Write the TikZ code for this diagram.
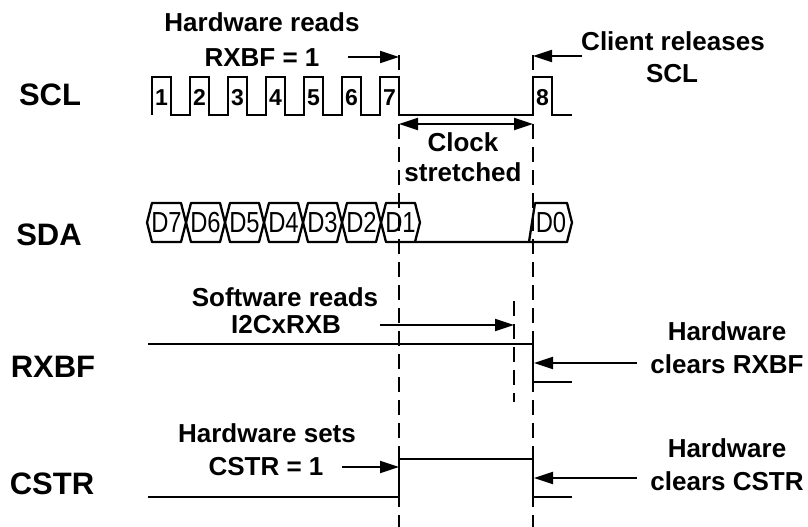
\documentclass[tikz,border=0pt]{standalone}
\usepackage{fontspec}
\setmainfont{Liberation Sans}
\newfontfamily\datafont[FakeStretch=0.82]{Liberation Sans}
\usetikzlibrary{arrows.meta}

\begin{document}
\begin{tikzpicture}[
  x=1pt, y=-1pt,
  sig/.style={line width=2.8pt, line join=miter},
  hex/.style={line width=2.3pt, line join=round},
  ann/.style={-{Triangle[length=19pt,width=12pt]}, line width=2pt},
  span/.style={{Triangle[length=19pt,width=12pt]}-{Triangle[length=19pt,width=12pt]}, line width=2pt},
  mk/.style={dash pattern=on 15pt off 8pt, line width=1.8pt},
  lbl/.style={font=\fontsize{31}{36}\selectfont\bfseries, inner sep=0pt, text height=22.2pt, text depth=0pt},
  txt/.style={font=\fontsize{26}{31}\selectfont\bfseries, inner sep=0pt, text height=18.6pt, text depth=0pt},
  num/.style={font=\fontsize{23}{27}\selectfont\bfseries, inner sep=0pt, text height=16.5pt, text depth=0pt},
  dat/.style={font=\datafont\fontsize{29}{34}\selectfont, inner sep=0pt, text height=20.8pt, text depth=0pt}
]
\useasboundingbox (0,0) rectangle (808,527);

% signal names
\node[lbl] (sclL)  at (50,94)  {SCL};
\node[lbl] (sdaL)  at (49,234) {SDA};
\node[lbl] (rxbfL) at (53,366) {RXBF};
\node[lbl] (cstrL) at (52,483) {CSTR};

% marker lines
\coordinate (m7top) at (399,55);  \coordinate (m7bot) at (399,527);
\coordinate (m8top) at (533,55);  \coordinate (m8bot) at (533,527);
\coordinate (mrTop) at (514,301); \coordinate (mrBot) at (514,402);
\draw[mk] (m7top) -- (m7bot);
\draw[mk] (m8top) -- (m8bot);
\draw[mk] (mrTop) -- (mrBot);

% SCL
\draw[sig] (152,115) foreach \k in {0,...,6} { -- ({152+38*\k},77) -- ({171+38*\k},77)
  -- ({171+38*\k},115) -- ({190+38*\k},115) } -- (533,115) -- (533,77) -- (552,77) -- (552,115) -- (572,115);
\foreach \k in {1,...,7} \node[num] (p\k) at ({123.5+38*\k},97) {\k};
\node[num] (p8) at (542.5,97) {8};

% SDA
\foreach \d [count=\k from 0] in {7,6,5,4,3,2,1} {
  \draw[hex] ({147+39*\k},222.5) -- ++(5,-19.5) -- ++(29,0) -- ++(5,19.5) -- ++(-5,19.5) -- ++(-29,0) -- cycle;
  \node[dat] (d\d) at ({166.5+39*\k},222.5) {D\d};
}
\draw[hex] (415,242) -- (529,242) -- (535,203) -- (567,203) -- (572,222.5) -- (567,242) -- (529,242);
\node[dat] (d0) at (551,222.5) {D0};

% RXBF and CSTR
\draw[sig] (148,344) -- (533,344) -- (533,382) -- (572,382);
\draw[sig] (148,497) -- (399,497) -- (399,459) -- (533,459) -- (533,497) -- (572,497);

% notes
\node[txt] (hwRd1) at (262,22)   {Hardware reads};
\node[txt] (hwRd2) at (262,57.5) {RXBF = 1};
\coordinate (hwRdA) at (348,57); \coordinate (hwRdB) at (399,57);
\draw[ann] (hwRdA) -- (hwRdB);

\node[txt] (clRel1) at (673,41)   {Client releases};
\node[txt] (clRel2) at (672,73.5) {SCL};
\coordinate (clRelA) at (582,56); \coordinate (clRelB) at (533,56);
\draw[ann] (clRelA) -- (clRelB);

\coordinate (csA) at (399,124); \coordinate (csB) at (533,124);
\draw[span] (csA) -- (csB);
\node[txt] (cs1) at (463,142.5) {Clock};
\node[txt] (cs2) at (463,172)   {stretched};

\node[txt] (swRd1) at (285,297.5) {Software reads};
\node[txt] (swRd2) at (286,324)   {I2CxRXB};
\coordinate (swRdA) at (380,325); \coordinate (swRdB) at (514,325);
\draw[ann] (swRdA) -- (swRdB);

\node[txt] (hwClR1) at (727,331) {Hardware};
\node[txt] (hwClR2) at (727,364) {clears RXBF};
\coordinate (hwClRA) at (637,363); \coordinate (hwClRB) at (534,363);
\draw[ann] (hwClRA) -- (hwClRB);

\node[txt] (hwSet1) at (267,433.5) {Hardware sets};
\node[txt] (hwSet2) at (266,466)   {CSTR = 1};
\coordinate (hwSetA) at (342,467); \coordinate (hwSetB) at (399,467);
\draw[ann] (hwSetA) -- (hwSetB);

\node[txt] (hwClC1) at (727,448) {Hardware};
\node[txt] (hwClC2) at (727,481) {clears CSTR};
\coordinate (hwClCA) at (637,478); \coordinate (hwClCB) at (534,478);
\draw[ann] (hwClCA) -- (hwClCB);
\end{tikzpicture}
\end{document}
